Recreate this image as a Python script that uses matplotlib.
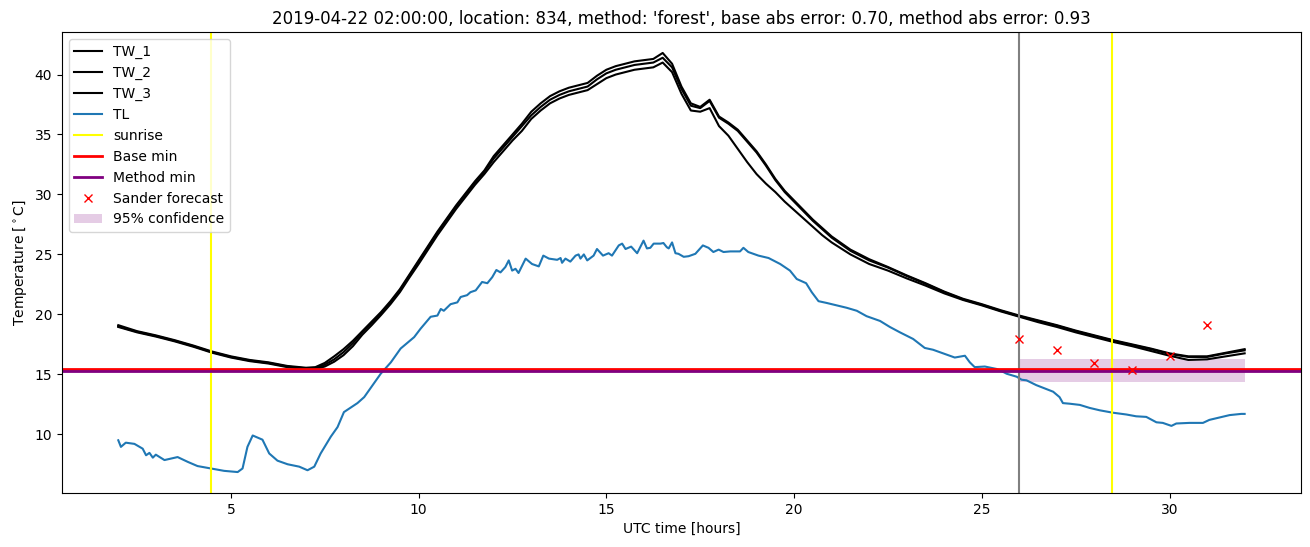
import matplotlib
matplotlib.use("Agg")
import matplotlib.pyplot as plt

# hours after midnight of 2019-04-22 (UTC)
tw_hours = [2.0, 2.5, 3.0, 3.5, 4.0, 4.5, 5.0, 5.5, 6.0, 6.5, 7.0,
            7.25, 7.5, 7.75, 8.0, 8.25, 8.5, 8.75, 9.0, 9.25, 9.5, 9.75,
            10.0, 10.25, 10.5, 10.75, 11.0, 11.25, 11.5, 11.75,
            12.0, 12.25, 12.5, 12.75, 13.0, 13.25, 13.5, 13.75,
            14.0, 14.25, 14.5, 14.75, 15.0, 15.25, 15.5, 15.75,
            16.0, 16.25, 16.5, 16.75, 17.0, 17.25, 17.5, 17.75,
            18.0, 18.25, 18.5, 18.75, 19.0, 19.25, 19.5, 19.75,
            20.0, 20.25, 20.5, 20.75, 21.0,
            21.5, 22.0, 22.5, 23.0, 23.5, 24.0, 24.5, 25.0, 25.5, 26.0,
            26.5, 27.0, 27.5, 28.0, 28.5, 29.0, 29.5, 30.0, 30.5, 31.0, 31.5, 32.0]

tw_1 = [19.1, 18.6, 18.25, 17.85, 17.4, 16.9, 16.5, 16.2, 16.0, 15.7, 15.55,
        15.6, 15.95, 16.5, 17.1, 17.8, 18.6, 19.4, 20.2, 21.1, 22.1, 23.3,
        24.5, 25.7, 26.9, 28.0, 29.1, 30.1, 31.1, 32.0,
        33.2, 34.1, 35.0, 35.9, 36.9, 37.6, 38.2, 38.6,
        38.9, 39.1, 39.3, 39.9, 40.4, 40.7, 40.9, 41.1,
        41.2, 41.3, 41.8, 40.9, 39.0, 37.6, 37.3, 37.9,
        36.5, 36.0, 35.4, 34.5, 33.6, 32.5, 31.3, 30.3,
        29.5, 28.7, 27.9, 27.2, 26.5,
        25.4, 24.6, 23.95, 23.25, 22.6, 21.9, 21.3, 20.85, 20.35, 19.9,
        19.5, 19.1, 18.65, 18.25, 17.85, 17.5, 17.15, 16.75, 16.5, 16.5, 16.8, 17.1]

tw_2 = [19.0, 18.55, 18.2, 17.8, 17.35, 16.85, 16.45, 16.15, 15.95, 15.65, 15.5,
        15.5, 15.8, 16.25, 16.85, 17.6, 18.5, 19.3, 20.1, 21.0, 22.0, 23.2,
        24.4, 25.6, 26.8, 27.9, 29.0, 30.0, 31.0, 31.9,
        33.0, 33.9, 34.8, 35.7, 36.6, 37.3, 37.9, 38.3,
        38.6, 38.8, 39.0, 39.6, 40.1, 40.4, 40.6, 40.8,
        40.9, 41.0, 41.4, 40.6, 38.8, 37.4, 37.2, 37.8,
        36.4, 35.9, 35.3, 34.4, 33.5, 32.4, 31.2, 30.2,
        29.4, 28.6, 27.8, 27.1, 26.4,
        25.3, 24.5, 23.9, 23.2, 22.55, 21.85, 21.25, 20.8, 20.3, 19.85,
        19.45, 19.05, 18.6, 18.2, 17.8, 17.45, 17.1, 16.7, 16.45, 16.45, 16.75, 17.0]

tw_3 = [18.95, 18.5, 18.15, 17.75, 17.3, 16.8, 16.4, 16.1, 15.9, 15.6, 15.45,
        15.45, 15.65, 16.05, 16.6, 17.35, 18.3, 19.1, 19.95, 20.85, 21.85, 23.05,
        24.2, 25.4, 26.6, 27.7, 28.8, 29.8, 30.8, 31.7,
        32.7, 33.6, 34.5, 35.3, 36.3, 37.0, 37.6, 38.0,
        38.3, 38.5, 38.7, 39.2, 39.7, 40.0, 40.2, 40.4,
        40.5, 40.6, 41.0, 40.2, 38.4, 37.0, 36.9, 37.2,
        35.7, 34.9, 33.8, 32.7, 31.7, 30.9, 30.2, 29.4,
        28.7, 28.0, 27.3, 26.6, 26.0,
        25.0, 24.2, 23.65, 23.0, 22.4, 21.75, 21.2, 20.75, 20.25, 19.8,
        19.35, 18.95, 18.5, 18.1, 17.7, 17.35, 16.95, 16.55, 16.2, 16.25, 16.5, 16.75]

tl_hours = [2.0, 2.07, 2.2, 2.43, 2.65, 2.74, 2.83, 2.92, 3.0, 3.23, 3.58, 3.85,
            4.11, 4.47, 4.82, 5.18, 5.31, 5.44, 5.58, 5.84, 6.02, 6.24, 6.51,
            6.82, 7.04, 7.22, 7.39, 7.66, 7.84, 8.01, 8.37, 8.55, 8.99, 9.26,
            9.52, 9.88, 10.05, 10.32, 10.5, 10.59, 10.67, 10.85, 11.03, 11.12,
            11.29, 11.38, 11.52, 11.69, 11.83, 11.96, 12.07, 12.18, 12.31, 12.4,
            12.49, 12.58, 12.66, 12.85, 13.02, 13.2, 13.32, 13.47, 13.69, 13.78,
            13.82, 13.91, 14.04, 14.18, 14.26, 14.31, 14.4, 14.49, 14.66, 14.75,
            14.91, 15.06, 15.15, 15.33, 15.42, 15.51, 15.66, 15.82, 15.99, 16.08,
            16.17, 16.26, 16.44, 16.52, 16.61, 16.66, 16.75, 16.84, 16.92, 17.06,
            17.19, 17.37, 17.57, 17.72, 17.85, 17.99, 18.12, 18.3, 18.56, 18.65,
            18.78, 19.05, 19.32, 19.63, 19.89, 20.07, 20.32, 20.47, 20.65, 20.87,
            21.14, 21.4, 21.67, 21.93, 22.29, 22.55, 22.82, 23.17, 23.48, 23.7,
            24.06, 24.28, 24.55, 24.68, 24.81, 25.08, 25.39, 25.57, 25.66, 25.93,
            26.06, 26.19, 26.45, 26.9, 27.07, 27.16, 27.34, 27.61, 27.87, 28.14,
            28.49, 28.85, 29.11, 29.38, 29.65, 29.82, 30.05, 30.18, 30.53, 30.89,
            31.06, 31.33, 31.6, 31.91, 32.0]
tl = [9.5, 8.95, 9.3, 9.2, 8.8, 8.25, 8.45, 8.05, 8.3, 7.85, 8.1, 7.7,
      7.35, 7.15, 6.95, 6.85, 7.15, 8.95, 9.9, 9.55, 8.4, 7.8, 7.5,
      7.3, 7.0, 7.3, 8.4, 9.8, 10.6, 11.85, 12.6, 13.1, 15.05, 16.0,
      17.15, 18.1, 18.8, 19.8, 19.9, 20.45, 20.3, 20.85, 21.0, 21.45,
      21.6, 21.85, 22.0, 22.7, 22.6, 23.1, 23.7, 23.5, 23.95, 24.5,
      23.65, 23.8, 23.45, 24.65, 24.2, 24.0, 24.9, 24.65, 24.55, 24.7,
      24.3, 24.65, 24.4, 24.9, 25.0, 24.65, 25.0, 24.5, 24.9, 25.45,
      24.9, 25.1, 24.9, 25.75, 25.9, 25.45, 25.65, 25.1, 26.15, 25.5,
      25.55, 25.9, 25.9, 25.95, 25.6, 25.5, 26.0, 25.1, 25.05, 24.8,
      24.85, 25.05, 25.75, 25.55, 25.2, 25.4, 25.2, 25.25, 25.25, 25.55,
      25.2, 24.9, 24.7, 24.2, 23.65, 22.95, 22.6, 21.85, 21.1, 20.95,
      20.75, 20.55, 20.3, 19.85, 19.45, 18.95, 18.5, 17.95, 17.2, 17.05,
      16.65, 16.4, 16.55, 16.0, 15.6, 15.65, 15.45, 15.2, 15.05, 14.8,
      14.55, 14.5, 14.1, 13.55, 13.1, 12.6, 12.55, 12.45, 12.2, 12.0,
      11.8, 11.65, 11.5, 11.45, 11.0, 10.95, 10.7, 10.9, 10.95, 10.95,
      11.2, 11.4, 11.6, 11.7, 11.7]

sunrise_hours = [4.47, 28.47]
forecast_start = 26.0
base_min = 15.44
method_min = 15.28

forecast_hours = [26, 27, 28, 29, 30, 31]
forecast_values = [17.97, 17.06, 15.97, 15.39, 16.5, 19.14]
conf_hours = [26, 32]
conf_low = [14.35, 14.35]
conf_high = [16.25, 16.25]

fig, ax = plt.subplots(figsize=(13.1, 5.47), dpi=100)
fig.subplots_adjust(left=0.0473, right=0.9931, top=0.9415, bottom=0.0987)

ax.plot(tw_hours, tw_1, color='black', label='TW_1')
ax.plot(tw_hours, tw_2, color='black', label='TW_2')
ax.plot(tw_hours, tw_3, color='black', label='TW_3')
ax.plot(tl_hours, tl, color='tab:blue', label='TL')

ax.axvline(forecast_start, color='gray')
for i, h in enumerate(sunrise_hours):
    ax.axvline(h, color='yellow', label='sunrise' if i == 0 else None)

ax.axhline(base_min, color='red', lw=2, label='Base min')
ax.axhline(method_min, color='purple', lw=2, label='Method min')
ax.plot(forecast_hours, forecast_values, 'rx', label='Sander forecast')
ax.fill_between(conf_hours, conf_low, conf_high, color='purple', alpha=0.2,
                lw=0, label='95% confidence')

ax.set_title("2019-04-22 02:00:00, location: 834, method: 'forest', "
             "base abs error: 0.70, method abs error: 0.93")
ax.set_xlabel('UTC time [hours]')
ax.set_ylabel(r'Temperature [$^\circ$C]')
ax.legend(loc='upper left')

fig.savefig('out.png', dpi=100)
